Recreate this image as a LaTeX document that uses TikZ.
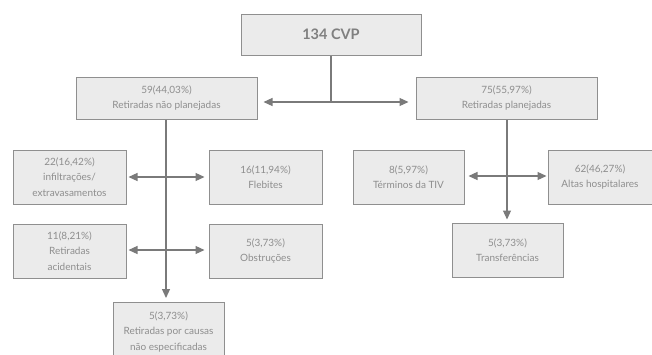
\documentclass[tikz,border=0pt]{standalone}
\usepackage{fontspec}
\setmainfont{Lato}
\usetikzlibrary{arrows.meta}
\definecolor{boxfill}{HTML}{EBEBEB}
\definecolor{boxline}{HTML}{8F8F8F}
\definecolor{txt}{HTML}{8E8E8E}
\definecolor{arr}{HTML}{7A7A7A}
\tikzset{
  box/.style={draw=boxline, line width=1pt, fill=boxfill, text=txt, align=center,
    font=\fontsize{10}{15.5}\selectfont, inner sep=0pt, anchor=center},
  conn/.style={draw=arr, line width=1.2pt},
  tip/.style={conn, -{Triangle[length=9pt,width=8pt]}},
}
\begin{document}
\begin{tikzpicture}[x=1pt,y=-1pt]
\useasboundingbox (0,0) rectangle (652,354);
\fill[white] (0,0) rectangle (652,354);
% boxes
\node[box, minimum width=180pt, minimum height=41pt, font=\fontsize{14.5}{16}\bfseries\selectfont, text=txt!90!black] (top) at (331,34.5) {134 CVP};
\node[box, minimum width=181pt, minimum height=42pt] (L) at (166.5,98) {59(44,03\%)\\Retiradas não planejadas};
\node[box, minimum width=181pt, minimum height=42pt] (R) at (506.5,98) {75(55,97\%)\\Retiradas planejadas};
\node[box, minimum width=113pt, minimum height=54pt] (inf) at (69.5,177) {22(16,42\%)\\infiltrações/\\extravasamentos};
\node[box, minimum width=113pt, minimum height=54pt] (fle) at (265.5,177) {16(11,94\%)\\Flebites};
\node[box, minimum width=113pt, minimum height=54pt] (aci) at (69.5,251) {11(8,21\%)\\Retiradas\\acidentais};
\node[box, minimum width=113pt, minimum height=54pt] (obs) at (265.5,251) {5(3,73\%)\\Obstruções};
\node[box, minimum width=111pt, minimum height=58pt, anchor=north] (nes) at (168.5,302) {5(3,73\%)\\Retiradas por causas\\não especificadas};
\node[box, minimum width=111pt, minimum height=54pt] (ter) at (408.5,177) {8(5,97\%)\\Términos da TIV};
\node[box, minimum width=104pt, minimum height=54pt] (alt) at (600,177) {62(46,27\%)\\Altas hospitalares};
\node[box, minimum width=111pt, minimum height=54pt] (tra) at (507.5,250) {5(3,73\%)\\Transferências};
% junctions
\coordinate (j0) at (331,102);
\coordinate (jl1) at (166,177);
\coordinate (jl2) at (166,250);
\coordinate (jr1) at (507,176);
% connectors
\draw[conn] (top.south) -- (j0);
\draw[tip, shorten >=6pt] (j0) -- (L.east |- j0);
\draw[tip, shorten >=7pt] (j0) -- (R.west |- j0);
\draw[tip, shorten >=4pt] (L.south -| jl1) -- (nes.north -| jl1);
\draw[tip, shorten >=2pt] (jl1) -- (inf.east |- jl1);
\draw[tip, shorten >=4pt] (jl1) -- (fle.west |- jl1);
\draw[tip, shorten >=2pt] (jl2) -- (aci.east |- jl2);
\draw[tip, shorten >=4pt] (jl2) -- (obs.west |- jl2);
\draw[tip, shorten >=3pt] (R.south -| jr1) -- (tra.north -| jr1);
\draw[tip, shorten >=4pt] (jr1) -- (ter.east |- jr1);
\draw[tip, shorten >=1pt] (jr1) -- (alt.west |- jr1);
\end{tikzpicture}
\end{document}
